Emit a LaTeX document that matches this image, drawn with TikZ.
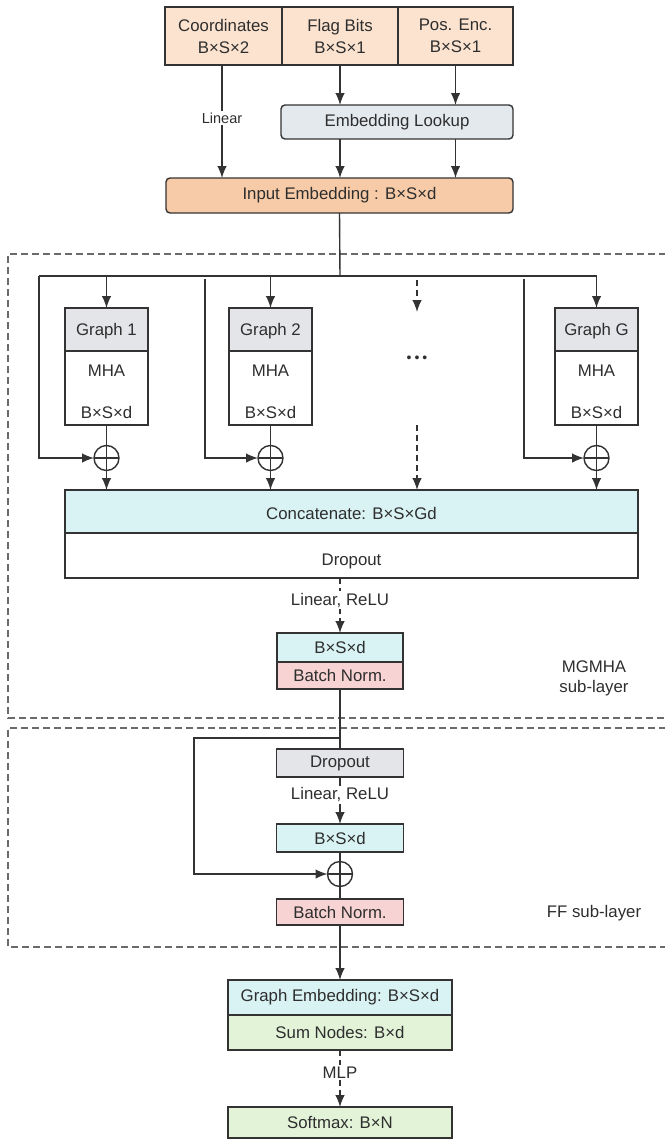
\documentclass[tikz,border=0pt]{standalone}
\usepackage{fontspec}
\setmainfont{Liberation Sans}
\usetikzlibrary{arrows.meta}
\definecolor{lc}{HTML}{333333}
\definecolor{tc}{HTML}{2E2E2E}
\definecolor{dc}{HTML}{6A6A6A}
\definecolor{peach}{HTML}{FBE3D0}
\definecolor{peachd}{HTML}{F7CBA7}
\definecolor{lookc}{HTML}{E4E9EE}
\definecolor{grayh}{HTML}{E3E5E8}
\definecolor{cyanc}{HTML}{D9F2F3}
\definecolor{pinkc}{HTML}{F7D3D3}
\definecolor{greenc}{HTML}{E3F3D8}
\begin{document}
\begin{tikzpicture}[x=1pt,y=-1pt,
  font=\fontsize{16.8}{22}\selectfont, text=tc,
  box/.style={draw=lc, line width=1.4pt, inner sep=0pt, outer sep=0pt, align=center},
  arr/.style={-{Latex[length=12pt,width=9.5pt]}, draw=lc, line width=1.4pt},
  ln/.style={draw=lc, line width=1.4pt},
  dsh/.style={dash pattern=on 6pt off 4pt},
  dbox/.style={draw=dc, line width=1.3pt, dash pattern=on 7pt off 4pt},
  lbl/.style={fill=white, inner sep=1.5pt},
  txt/.style={inner sep=0pt},
  oplus/.style={circle, draw=lc, line width=1.4pt, minimum size=25pt, inner sep=0pt, outer sep=0pt,
    path picture={\draw[lc, line width=1.4pt] (path picture bounding box.north) -- (path picture bounding box.south)
      (path picture bounding box.west) -- (path picture bounding box.east);}}
]
\useasboundingbox (0,0) rectangle (664,1140);

% ---- inputs
\node[box, fill=peach, minimum width=117, minimum height=58] (coo) at (223.5,36) {Coordinates\\B×S×2};
\node[box, fill=peach, minimum width=116, minimum height=58] (flag) at (340,36) {Flag Bits\\B×S×1};
\node[box, fill=peach, minimum width=115, minimum height=58] (pos) at (455.5,36) {Pos. Enc.\\B×S×1};
\node[box, fill=lookc, rounded corners=4pt, minimum width=232, minimum height=34] (look) at (397,122) {Embedding Lookup};
\node[box, fill=peachd, rounded corners=4pt, minimum width=347, minimum height=35] (inp) at (339.5,195.5) {Input Embedding : B×S×d};

\draw[arr] (coo.south -| 222,0) -- node[lbl, pos=0.47, font=\fontsize{14.5}{16}\selectfont]{Linear} (inp.north -| 222,0);
\draw[arr] (flag.south) -- (look.north -| flag.south);
\draw[arr] (pos.south) -- (look.north -| pos.south);
\draw[arr] (look.south -| flag.south) -- (inp.north -| flag.south);
\draw[arr] (look.south -| pos.south) -- (inp.north -| pos.south);

% ---- MGMHA sub-layer
\draw[dbox] (666,254) -- (8,254) -- (8,718) -- (666,718);
\coordinate (bus) at (340,276);
\coordinate (busL) at (39,276);
\coordinate (busR) at (596.5,276);
\draw[ln] (inp.south) -- (bus);
\draw[ln] (busL) -- (busR);

\foreach \n/\cx/\lab in {1/106.5/Graph 1, 2/270.5/Graph 2, 3/596.5/Graph G}{
  \node[box, fill=grayh, minimum width=83, minimum height=43] (g\n h) at (\cx,329.5) {};
  \node[txt] at (\cx,331) {\lab};
  \node[box, fill=white, minimum width=83, minimum height=74] (g\n b) at (\cx,388) {};
  \node[txt] at (\cx,371) {MHA};
  \node[txt] at (\cx,412) {B×S×d};
  \node[oplus] (o\n) at (\cx,458) {};
  \draw[arr] (g\n h.north |- bus) -- (g\n h.north);
  \draw[ln] (g\n b.south) -- (o\n.north);
}
\coordinate (r2) at (205,279);
\coordinate (r3) at (524,279);
\draw[arr] (busL) |- (o1.west);
\draw[arr] (r2) |- (o2.west);
\draw[arr] (r3) |- (o3.west);

\coordinate (d1) at (417,280);
\coordinate (d1e) at (417,312);
\coordinate (d2) at (417,425);
\draw[arr, dsh] (d1) -- (d1e);
\node[txt, font=\fontsize{14}{14}\selectfont] (dots) at (417,359) {•\hspace{3pt}•\hspace{3pt}•};

\node[box, fill=cyanc, minimum width=573, minimum height=43] (cat) at (351.5,511.5) {};
\node[txt] at (351.5,513) {Concatenate: B×S×Gd};
\node[box, fill=white, minimum width=573, minimum height=45] (drop) at (351.5,555.5) {};
\node[txt] at (351.5,561) {Dropout};

\draw[arr] (o1.south) -- (o1.south |- cat.north);
\draw[arr] (o2.south) -- (o2.south |- cat.north);
\draw[arr] (o3.south) -- (o3.south |- cat.north);
\draw[arr, dsh] (d2) -- (d2 |- cat.north);

\node[box, fill=cyanc, minimum width=126, minimum height=29] (bx1) at (340,647.5) {B×S×d};
\node[box, fill=pinkc, minimum width=126, minimum height=27] (bn1) at (340,675.5) {Batch Norm.};
\draw[arr, dsh] (bx1.north |- drop.south) -- node[lbl, pos=0.4]{Linear, ReLU} (bx1.north);

\node[txt] at (594,667) {MGMHA};
\node[txt] at (594,688) {sub-layer};

% ---- FF sub-layer
\draw[dbox] (666,728) -- (8,728) -- (8,947) -- (666,947);
\coordinate (br) at (340,738);
\coordinate (rl) at (194,738);
\node[box, fill=grayh, minimum width=127, minimum height=28] (dr2) at (340,763) {Dropout};
\node[box, fill=cyanc, minimum width=127, minimum height=28] (bx2) at (340,838) {B×S×d};
\node[oplus] (o4) at (340,874) {};
\node[box, fill=pinkc, minimum width=127, minimum height=26] (bn2) at (340,912) {Batch Norm.};
\draw[ln] (bn1.south) -- (dr2.north);
\draw[arr] (br) -- (rl) |- (o4.west);
\draw[arr] (dr2.south) -- node[lbl, pos=0.38]{Linear, ReLU} (bx2.north);
\draw[ln] (bx2.south) -- (o4.north);
\draw[ln] (o4.south) -- (bn2.north);
\node[txt] at (594,913) {FF sub-layer};

% ---- output
\node[box, fill=cyanc, minimum width=224, minimum height=35] (ge) at (340,997.5) {Graph Embedding: B×S×d};
\node[box, fill=greenc, minimum width=224, minimum height=35] (sn) at (340,1032.5) {Sum Nodes: B×d};
\node[box, fill=greenc, minimum width=224, minimum height=31] (sm) at (340,1122.5) {Softmax: B×N};
\draw[arr] (bn2.south) -- (ge.north);
\draw[arr, dsh] (sn.south) -- node[lbl, pos=0.39]{MLP} (sm.north);
\end{tikzpicture}
\end{document}
